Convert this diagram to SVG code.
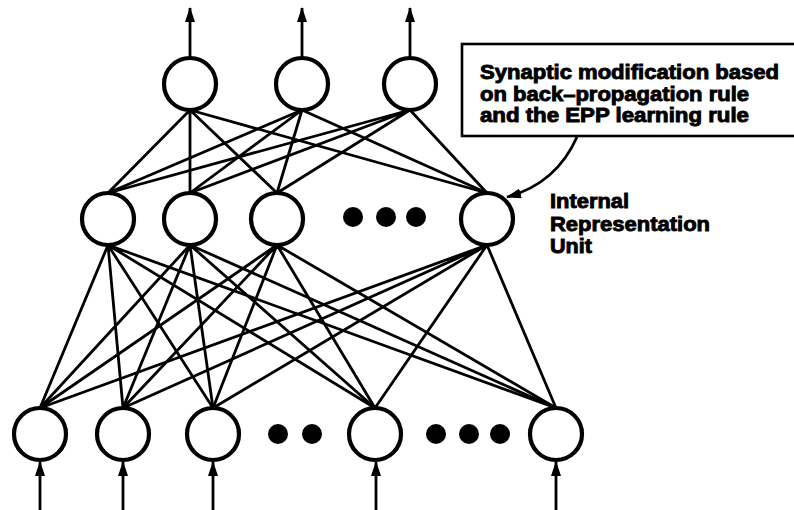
<svg xmlns="http://www.w3.org/2000/svg" width="794" height="510" viewBox="0 0 794 510">
  <style>
    .unit { fill: #fff; stroke: #000; stroke-width: 4.2; }
    .dot { fill: #000; }
    .link { stroke: #000; stroke-width: 2.8; fill: none; stroke-linecap: round; }
    .io { stroke: #000; stroke-width: 2.8; fill: none; }
    .lbl { font-family: "Liberation Sans", Arial, sans-serif; font-weight: bold; fill: #000; stroke: #000; stroke-width: 0.9; }
  </style>
  <defs>
    <marker id="head" viewBox="0 0 15 10" refX="14" refY="5" markerWidth="15" markerHeight="10" markerUnits="userSpaceOnUse" orient="auto">
      <path d="M0,0 L15,5 L0,10 Z" fill="#000"/>
    </marker>
  </defs>

  <rect width="794" height="510" fill="#fff"/>

  <!-- connections -->
  <g id="connectors">
    <!-- output layer to hidden layer -->
    <path class="link" d="M190,110 L108,193 M190,110 L190,193 M190,110 L277,193 M190,110 L487,193"/>
    <path class="link" d="M302,110 L108,193 M302,110 L190,193 M302,110 L277,193 M302,110 L487,193"/>
    <path class="link" d="M410,110 L108,193 M410,110 L190,193 M410,110 L277,193 M410,110 L487,193"/>
    <!-- hidden layer to input layer -->
    <path class="link" d="M108,245 L40,408 M108,245 L123,408 M108,245 L213,408 M108,245 L375,408 M108,245 L556,408"/>
    <path class="link" d="M190,245 L40,408 M190,245 L123,408 M190,245 L213,408 M190,245 L375,408 M190,245 L556,408"/>
    <path class="link" d="M277,245 L40,408 M277,245 L123,408 M277,245 L213,408 M277,245 L375,408 M277,245 L556,408"/>
    <path class="link" d="M487,245 L40,408 M487,245 L123,408 M487,245 L213,408 M487,245 L375,408 M487,245 L556,408"/>
    <!-- outputs -->
    <path class="io" marker-end="url(#head)" d="M190,58 L190,8"/>
    <path class="io" marker-end="url(#head)" d="M302,58 L302,8"/>
    <path class="io" marker-end="url(#head)" d="M410,58 L410,8"/>
    <!-- inputs -->
    <path class="io" marker-end="url(#head)" d="M40,510 L40,462"/>
    <path class="io" marker-end="url(#head)" d="M123,510 L123,462"/>
    <path class="io" marker-end="url(#head)" d="M213,510 L213,462"/>
    <path class="io" marker-end="url(#head)" d="M376,510 L376,462"/>
    <path class="io" marker-end="url(#head)" d="M556,510 L556,462"/>
    <!-- callout pointer -->
    <path class="io" marker-end="url(#head)" d="M577,137 Q556,184 507,197"/>
  </g>

  <!-- output layer -->
  <g id="out1"><circle class="unit" cx="190" cy="84" r="26"/></g>
  <g id="out2"><circle class="unit" cx="302" cy="84" r="26"/></g>
  <g id="out3"><circle class="unit" cx="410" cy="84" r="26"/></g>

  <!-- hidden layer -->
  <g id="hid1"><circle class="unit" cx="108" cy="219" r="26"/></g>
  <g id="hid2"><circle class="unit" cx="190" cy="219" r="26"/></g>
  <g id="hid3"><circle class="unit" cx="277" cy="219" r="26"/></g>
  <g id="hid-ellipsis">
    <circle class="dot" cx="353" cy="217" r="10"/>
    <circle class="dot" cx="386" cy="217" r="10"/>
    <circle class="dot" cx="416" cy="217" r="10"/>
  </g>
  <g id="hidN"><circle class="unit" cx="487" cy="219" r="26"/></g>

  <!-- input layer -->
  <g id="in1"><circle class="unit" cx="40" cy="434" r="26"/></g>
  <g id="in2"><circle class="unit" cx="123" cy="434" r="26"/></g>
  <g id="in3"><circle class="unit" cx="213" cy="434" r="26"/></g>
  <g id="in-ellipsis1">
    <circle class="dot" cx="278" cy="434" r="10"/>
    <circle class="dot" cx="312" cy="434" r="10"/>
  </g>
  <g id="in4"><circle class="unit" cx="375" cy="434" r="26"/></g>
  <g id="in-ellipsis2">
    <circle class="dot" cx="436" cy="434" r="10"/>
    <circle class="dot" cx="469" cy="434" r="10"/>
    <circle class="dot" cx="500" cy="434" r="10"/>
  </g>
  <g id="inN"><circle class="unit" cx="556" cy="434" r="26"/></g>

  <!-- callout box -->
  <g id="callout">
    <rect x="462" y="44" width="340" height="92" fill="#fff" stroke="#000" stroke-width="2.6"/>
    <text class="lbl" font-size="20" x="480" y="79" textLength="299" lengthAdjust="spacingAndGlyphs">Synaptic modification based</text>
    <text class="lbl" font-size="20" x="480" y="101" textLength="269" lengthAdjust="spacingAndGlyphs">on back–propagation rule</text>
    <text class="lbl" font-size="20" x="480" y="122" textLength="269" lengthAdjust="spacingAndGlyphs">and the EPP learning rule</text>
  </g>

  <!-- side label -->
  <g id="unit-label">
    <text class="lbl" font-size="21" x="550" y="208" textLength="79" lengthAdjust="spacingAndGlyphs">Internal</text>
    <text class="lbl" font-size="21" x="550" y="231" textLength="160" lengthAdjust="spacingAndGlyphs">Representation</text>
    <text class="lbl" font-size="21" x="550" y="253" textLength="42" lengthAdjust="spacingAndGlyphs">Unit</text>
  </g>
</svg>
